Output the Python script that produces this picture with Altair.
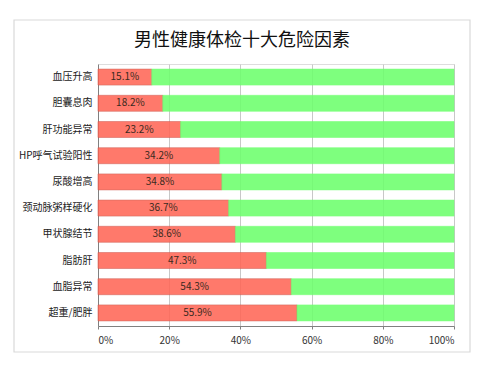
import altair as alt
import pandas as pd

title_text = "男性健康体检十大危险因素"
categories = ["血压升高", "胆囊息肉", "肝功能异常", "HP呼气试验阳性", "尿酸增高",
              "颈动脉粥样硬化", "甲状腺结节", "脂肪肝", "血脂异常", "超重/肥胖"]
values = [15.1, 18.2, 23.2, 34.2, 34.8, 36.7, 38.6, 47.3, 54.3, 55.9]
labels = ["15.1%", "18.2%", "23.2%", "34.2%", "34.8%", "36.7%", "38.6%", "47.3%", "54.3%", "55.9%"]

rows = []
for c, v, l in zip(categories, values, labels):
    rows.append({"cat": c, "part": "risk", "start": 0, "end": v / 100, "label": l, "mid": v / 200})
    rows.append({"cat": c, "part": "rest", "start": v / 100, "end": 1.0, "label": "", "mid": None})
df = pd.DataFrame(rows)

font = "Noto Sans CJK SC"
tick_vals = [i / 20 for i in range(21)]

yenc = alt.Y("cat:N", sort=categories, title=None,
             scale=alt.Scale(paddingInner=0.39, paddingOuter=0.195),
             axis=alt.Axis(labelFont=font, labelFontSize=10, labelColor="#222222",
                           ticks=False, labelPadding=6, domainColor="#808080", grid=False))

bars = alt.Chart(df).mark_bar(opacity=0.88, strokeWidth=0.6).encode(
    x=alt.X("start:Q", title=None,
            scale=alt.Scale(domain=[0, 1], nice=False),
            axis=alt.Axis(values=tick_vals, format=".0%",
                          labelExpr="round(datum.value*100) % 20 == 0 ? format(datum.value, '.0%') : ''",
                          labelFont=font, labelFontSize=10, labelColor="#333333", labelPadding=6,
                          tickSize=3, tickColor="#808080", domainColor="#808080",
                          gridColor="#c8c8c8",
                          gridOpacity={"condition": {"test": "round(datum.value*100) % 20 == 0 && datum.value > 0", "value": 1}, "value": 0})),
    x2="end:Q",
    y=yenc,
    color=alt.Color("part:N", legend=None,
                    scale=alt.Scale(domain=["risk", "rest"], range=["#FF6757", "#6DFF6D"])),
    stroke=alt.Stroke("part:N", legend=None,
                      scale=alt.Scale(domain=["risk", "rest"], range=["#D0574C", "#6DFF6D"])),
)

text = alt.Chart(df[df["part"] == "risk"]).mark_text(
    font=font, fontSize=10, color="#3a2a20", baseline="middle", align="center"
).encode(
    x="mid:Q",
    y=alt.Y("cat:N", sort=categories),
    text="label:N",
)

frame = alt.Chart(alt.Data(values=[{}])).mark_rect(
    fill=None, stroke="#d9d9d9", strokeWidth=1.2, clip=False
).encode(
    x=alt.value(-84), x2=alt.value(372), y=alt.value(-44), y2=alt.value(288)
)

title = alt.Chart(alt.Data(values=[{"t": title_text}])).mark_text(
    font=font, fontSize=18, color="#111111", align="center", baseline="middle", clip=False
).encode(
    x=alt.value(144), y=alt.value(-23), text="t:N"
)

chart = alt.layer(frame, bars, text, title).properties(
    width=356, height=262,
    autosize=alt.AutoSizeParams(type="none"),
    padding={"left": 90, "top": 56, "right": 30, "bottom": 30},
).configure_view(stroke=None).configure(background="white")

chart.save("out.html", embed_options={"renderer": "svg", "actions": False})
